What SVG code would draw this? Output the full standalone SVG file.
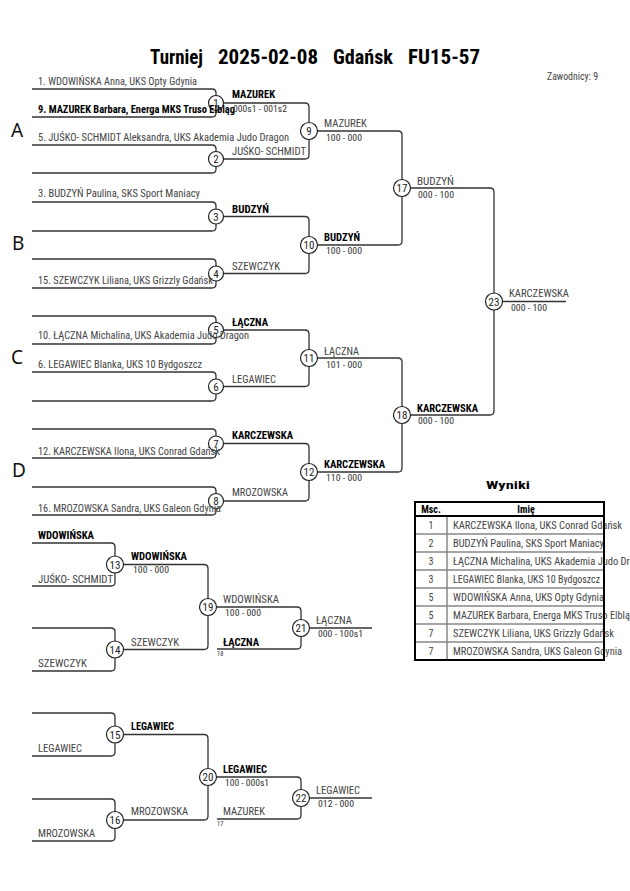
<svg xmlns="http://www.w3.org/2000/svg" width="630" height="891" viewBox="0 0 630 891">
<style>
.bg{fill:#fff}
.ln{fill:none;stroke:#333;stroke-width:1.3}
.nd circle{fill:#fff;stroke:#222;stroke-width:1.2}
.nd text{font-family:"Roboto Condensed","Liberation Sans Narrow",Roboto,sans-serif;font-size:11px;text-anchor:middle;fill:#222}
.t{font-family:"Roboto Condensed","Liberation Sans Narrow",Roboto,sans-serif;font-size:10px;fill:#444}
.b{font-weight:bold;fill:#000}
.s{font-size:8.5px;fill:#333}
.tiny{font-size:6.5px;fill:#333}
.pool{font-family:"Noto Sans","Open Sans",sans-serif;font-size:19px;fill:#111}
.ttl{font-family:"Roboto Condensed","Liberation Sans Narrow",Roboto,sans-serif;font-size:20px;font-weight:bold;fill:#000}
.tb{fill:none;stroke:#000;stroke-width:2}
.tl{fill:none;stroke:#888;stroke-width:1.5}
.c{text-anchor:middle}
</style>
<rect class="bg" x="0" y="0" width="630" height="891"/>

<g id="title">
<text class="ttl" x="150" y="64" textLength="53" lengthAdjust="spacingAndGlyphs">Turniej</text>
<text class="ttl" x="218" y="64" textLength="100" lengthAdjust="spacingAndGlyphs">2025-02-08</text>
<text class="ttl" x="333" y="64" textLength="60" lengthAdjust="spacingAndGlyphs">Gdańsk</text>
<text class="ttl" x="408" y="64" textLength="72" lengthAdjust="spacingAndGlyphs">FU15-57</text>
<text class="t" x="547" y="80" textLength="51" lengthAdjust="spacingAndGlyphs" fill="#555">Zawodnicy: 9</text>
</g>

<g id="pools">
<text class="pool" x="11" y="137">A</text>
<text class="pool" x="12" y="250">B</text>
<text class="pool" x="11" y="364">C</text>
<text class="pool" x="12" y="477">D</text>
</g>

<g id="connectors">
<path class="ln" d="M32,89 H212 Q216,89 216,93 V113 Q216,117 212,117 H32"/>
<path class="ln" d="M32,145 H212 Q216,145 216,149 V169 Q216,173 212,173 H32"/>
<path class="ln" d="M32,202 H212 Q216,202 216,206 V227 Q216,231 212,231 H32"/>
<path class="ln" d="M32,259 H212 Q216,259 216,263 V284 Q216,288 212,288 H32"/>
<path class="ln" d="M32,316 H212 Q216,316 216,320 V340 Q216,344 212,344 H32"/>
<path class="ln" d="M32,372 H212 Q216,372 216,376 V397 Q216,401 212,401 H32"/>
<path class="ln" d="M32,429 H212 Q216,429 216,433 V454 Q216,458 212,458 H32"/>
<path class="ln" d="M32,487 H212 Q216,487 216,491 V511 Q216,515 212,515 H32"/>
<path class="ln" d="M216,103 H305 Q309,103 309,107 V155 Q309,159 305,159 H216"/>
<path class="ln" d="M216,216.5 H305 Q309,216.5 309,220.5 V269.5 Q309,273.5 305,273.5 H216"/>
<path class="ln" d="M216,330 H305 Q309,330 309,334 V382.5 Q309,386.5 305,386.5 H216"/>
<path class="ln" d="M216,443.5 H305 Q309,443.5 309,447.5 V497 Q309,501 305,501 H216"/>
<path class="ln" d="M309,131 H398 Q402,131 402,135 V241 Q402,245 398,245 H309"/>
<path class="ln" d="M309,358 H398 Q402,358 402,362 V468 Q402,472 398,472 H309"/>
<path class="ln" d="M402,188 H490 Q494,188 494,192 V411 Q494,415 490,415 H402"/>
<path class="ln" d="M494,301.5 H566"/>
<path class="ln" d="M32,543 H111 Q115,543 115,547 V582 Q115,586 111,586 H32"/>
<path class="ln" d="M32,628 H111 Q115,628 115,632 V667 Q115,671 111,671 H32"/>
<path class="ln" d="M115,564.5 H204 Q208,564.5 208,568.5 V645.5 Q208,649.5 204,649.5 H115"/>
<path class="ln" d="M208,607 H297 Q301,607 301,611 V645 Q301,649 297,649 H217"/>
<path class="ln" d="M301,628 H372"/>
<path class="ln" d="M32,713 H111 Q115,713 115,717 V752 Q115,756 111,756 H32"/>
<path class="ln" d="M32,799 H111 Q115,799 115,803 V837 Q115,841 111,841 H32"/>
<path class="ln" d="M115,734.5 H204 Q208,734.5 208,738.5 V816 Q208,820 204,820 H115"/>
<path class="ln" d="M208,777 H297 Q301,777 301,781 V815 Q301,819 297,819 H217"/>
<path class="ln" d="M301,798 H372"/>
</g>

<g id="n1" class="nd"><circle cx="216" cy="103" r="7.5"/><text x="216" y="107">1</text></g>
<g id="n2" class="nd"><circle cx="216" cy="159" r="7.5"/><text x="216" y="163">2</text></g>
<g id="n3" class="nd"><circle cx="216" cy="216.5" r="7.5"/><text x="216" y="220.5">3</text></g>
<g id="n4" class="nd"><circle cx="216" cy="273.5" r="7.5"/><text x="216" y="277.5">4</text></g>
<g id="n5" class="nd"><circle cx="216" cy="330" r="7.5"/><text x="216" y="334">5</text></g>
<g id="n6" class="nd"><circle cx="216" cy="386.5" r="7.5"/><text x="216" y="390.5">6</text></g>
<g id="n7" class="nd"><circle cx="216" cy="443.5" r="7.5"/><text x="216" y="447.5">7</text></g>
<g id="n8" class="nd"><circle cx="216" cy="501" r="7.5"/><text x="216" y="505">8</text></g>
<g id="n9" class="nd"><circle cx="309" cy="131" r="8.5"/><text x="309" y="135">9</text></g>
<g id="n10" class="nd"><circle cx="309" cy="245" r="8.5"/><text x="309" y="249">10</text></g>
<g id="n11" class="nd"><circle cx="309" cy="358" r="8.5"/><text x="309" y="362">11</text></g>
<g id="n12" class="nd"><circle cx="309" cy="472" r="8.5"/><text x="309" y="476">12</text></g>
<g id="n17" class="nd"><circle cx="402" cy="188" r="8.5"/><text x="402" y="192">17</text></g>
<g id="n18" class="nd"><circle cx="402" cy="415" r="8.5"/><text x="402" y="419">18</text></g>
<g id="n23" class="nd"><circle cx="494" cy="301.5" r="8.5"/><text x="494" y="305.5">23</text></g>
<g id="n13" class="nd"><circle cx="115" cy="564.5" r="8.5"/><text x="115" y="568.5">13</text></g>
<g id="n14" class="nd"><circle cx="115" cy="649.5" r="8.5"/><text x="115" y="653.5">14</text></g>
<g id="n19" class="nd"><circle cx="208" cy="607" r="8.5"/><text x="208" y="611">19</text></g>
<g id="n21" class="nd"><circle cx="301" cy="628" r="8.5"/><text x="301" y="632">21</text></g>
<g id="n15" class="nd"><circle cx="115" cy="734.5" r="8.5"/><text x="115" y="738.5">15</text></g>
<g id="n16" class="nd"><circle cx="115" cy="820" r="8.5"/><text x="115" y="824">16</text></g>
<g id="n20" class="nd"><circle cx="208" cy="777" r="8.5"/><text x="208" y="781">20</text></g>
<g id="n22" class="nd"><circle cx="301" cy="798" r="8.5"/><text x="301" y="802">22</text></g>

<g id="labels">
<text class="t" x="38" y="85" textLength="159" lengthAdjust="spacingAndGlyphs">1. WDOWIŃSKA Anna, UKS Opty Gdynia</text>
<text class="t b" x="38" y="113" textLength="197" lengthAdjust="spacingAndGlyphs">9. MAZUREK Barbara, Energa MKS Truso Elbląg</text>
<text class="t" x="38" y="141" textLength="251" lengthAdjust="spacingAndGlyphs">5. JUŚKO- SCHMIDT Aleksandra, UKS Akademia Judo Dragon</text>
<text class="t b" x="232" y="98" textLength="43" lengthAdjust="spacingAndGlyphs">MAZUREK</text>
<text class="t s" x="233" y="111.5" textLength="54" lengthAdjust="spacingAndGlyphs">000s1 - 001s2</text>
<text class="t" x="232" y="155" textLength="74" lengthAdjust="spacingAndGlyphs">JUŚKO- SCHMIDT</text>
<text class="t" x="324" y="127" textLength="43" lengthAdjust="spacingAndGlyphs">MAZUREK</text>
<text class="t s" x="326" y="141" textLength="36" lengthAdjust="spacingAndGlyphs">100 - 000</text>

<text class="t" x="38" y="197" textLength="162" lengthAdjust="spacingAndGlyphs">3. BUDZYŃ Paulina, SKS Sport Maniacy</text>
<text class="t b" x="232" y="212.5" textLength="37" lengthAdjust="spacingAndGlyphs">BUDZYŃ</text>
<text class="t" x="232" y="269.5" textLength="48" lengthAdjust="spacingAndGlyphs">SZEWCZYK</text>
<text class="t" x="38" y="283.5" textLength="175" lengthAdjust="spacingAndGlyphs">15. SZEWCZYK Liliana, UKS Grizzly Gdańsk</text>
<text class="t b" x="324" y="241" textLength="36" lengthAdjust="spacingAndGlyphs">BUDZYŃ</text>
<text class="t s" x="326" y="254" textLength="36" lengthAdjust="spacingAndGlyphs">100 - 000</text>
<text class="t" x="417" y="184.5" textLength="37" lengthAdjust="spacingAndGlyphs">BUDZYŃ</text>
<text class="t s" x="418" y="197.5" textLength="36" lengthAdjust="spacingAndGlyphs">000 - 100</text>
<text class="t" x="509" y="297" textLength="60" lengthAdjust="spacingAndGlyphs">KARCZEWSKA</text>
<text class="t s" x="511" y="311" textLength="36" lengthAdjust="spacingAndGlyphs">000 - 100</text>

<text class="t b" x="232" y="326" textLength="36" lengthAdjust="spacingAndGlyphs">ŁĄCZNA</text>
<text class="t" x="38" y="339" textLength="211" lengthAdjust="spacingAndGlyphs">10. ŁĄCZNA Michalina, UKS Akademia Judo Dragon</text>
<text class="t" x="38" y="367.5" textLength="164" lengthAdjust="spacingAndGlyphs">6. LEGAWIEC Blanka, UKS 10 Bydgoszcz</text>
<text class="t" x="232" y="383" textLength="44" lengthAdjust="spacingAndGlyphs">LEGAWIEC</text>
<text class="t" x="324" y="354.5" textLength="35" lengthAdjust="spacingAndGlyphs">ŁĄCZNA</text>
<text class="t s" x="326" y="367.5" textLength="36" lengthAdjust="spacingAndGlyphs">101 - 000</text>
<text class="t b" x="324" y="468" textLength="61" lengthAdjust="spacingAndGlyphs">KARCZEWSKA</text>
<text class="t s" x="326" y="481" textLength="36" lengthAdjust="spacingAndGlyphs">110 - 000</text>
<text class="t b" x="417" y="412" textLength="61" lengthAdjust="spacingAndGlyphs">KARCZEWSKA</text>
<text class="t s" x="418" y="424" textLength="36" lengthAdjust="spacingAndGlyphs">000 - 100</text>

<text class="t b" x="232" y="439" textLength="61" lengthAdjust="spacingAndGlyphs">KARCZEWSKA</text>
<text class="t" x="38" y="455" textLength="182" lengthAdjust="spacingAndGlyphs">12. KARCZEWSKA Ilona, UKS Conrad Gdańsk</text>
<text class="t" x="232" y="496" textLength="56" lengthAdjust="spacingAndGlyphs">MROZOWSKA</text>
<text class="t" x="38" y="511.5" textLength="183" lengthAdjust="spacingAndGlyphs">16. MROZOWSKA Sandra, UKS Galeon Gdynia</text>

<text class="t b" x="38" y="539" textLength="56" lengthAdjust="spacingAndGlyphs">WDOWIŃSKA</text>
<text class="t" x="38" y="582.5" textLength="75" lengthAdjust="spacingAndGlyphs">JUŚKO- SCHMIDT</text>
<text class="t b" x="131" y="560" textLength="56" lengthAdjust="spacingAndGlyphs">WDOWIŃSKA</text>
<text class="t s" x="133" y="573" textLength="36" lengthAdjust="spacingAndGlyphs">100 - 000</text>
<text class="t" x="131" y="645.5" textLength="48" lengthAdjust="spacingAndGlyphs">SZEWCZYK</text>
<text class="t" x="38" y="666.5" textLength="49" lengthAdjust="spacingAndGlyphs">SZEWCZYK</text>
<text class="t" x="223" y="602.5" textLength="56" lengthAdjust="spacingAndGlyphs">WDOWIŃSKA</text>
<text class="t s" x="225" y="615.5" textLength="36" lengthAdjust="spacingAndGlyphs">100 - 000</text>
<text class="t b" x="223" y="645.5" textLength="36" lengthAdjust="spacingAndGlyphs">ŁĄCZNA</text>
<text class="t tiny" x="217" y="655.5">18</text>
<text class="t" x="316" y="623.5" textLength="36" lengthAdjust="spacingAndGlyphs">ŁĄCZNA</text>
<text class="t s" x="318" y="637" textLength="45" lengthAdjust="spacingAndGlyphs">000 - 100s1</text>

<text class="t b" x="131" y="730" textLength="43" lengthAdjust="spacingAndGlyphs">LEGAWIEC</text>
<text class="t" x="38" y="751.5" textLength="44" lengthAdjust="spacingAndGlyphs">LEGAWIEC</text>
<text class="t b" x="223" y="772.5" textLength="44" lengthAdjust="spacingAndGlyphs">LEGAWIEC</text>
<text class="t s" x="225" y="786" textLength="44" lengthAdjust="spacingAndGlyphs">100 - 000s1</text>
<text class="t" x="131" y="815" textLength="57" lengthAdjust="spacingAndGlyphs">MROZOWSKA</text>
<text class="t" x="223" y="815" textLength="42" lengthAdjust="spacingAndGlyphs">MAZUREK</text>
<text class="t tiny" x="217" y="825.5">17</text>
<text class="t" x="316" y="793.5" textLength="44" lengthAdjust="spacingAndGlyphs">LEGAWIEC</text>
<text class="t s" x="318" y="807" textLength="36" lengthAdjust="spacingAndGlyphs">012 - 000</text>
<text class="t" x="38" y="836.5" textLength="57" lengthAdjust="spacingAndGlyphs">MROZOWSKA</text>
</g>

<g id="results">
<text class="t b c" x="508" y="489" font-size="12" textLength="44" lengthAdjust="spacingAndGlyphs">Wyniki</text>
<text class="t b c" x="431" y="512.5">Msc.</text>
<text class="t b c" x="526" y="512.5">Imię</text>
<g class="t c">
<text x="431" y="528.5">1</text>
<text x="431" y="546.5">2</text>
<text x="431" y="564.5">3</text>
<text x="431" y="582.5">3</text>
<text x="431" y="600.5">5</text>
<text x="431" y="618.5">5</text>
<text x="431" y="636.5">7</text>
<text x="431" y="654.5">7</text>
</g>
<text class="t" x="453" y="528.5" textLength="169" lengthAdjust="spacingAndGlyphs">KARCZEWSKA Ilona, UKS Conrad Gdańsk</text>
<text class="t" x="453" y="546.5" textLength="151" lengthAdjust="spacingAndGlyphs">BUDZYŃ Paulina, SKS Sport Maniacy</text>
<text class="t" x="453" y="564.5" textLength="197" lengthAdjust="spacingAndGlyphs">ŁĄCZNA Michalina, UKS Akademia Judo Dragon</text>
<text class="t" x="453" y="582.5" textLength="147" lengthAdjust="spacingAndGlyphs">LEGAWIEC Blanka, UKS 10 Bydgoszcz</text>
<text class="t" x="453" y="600.5" textLength="151" lengthAdjust="spacingAndGlyphs">WDOWIŃSKA Anna, UKS Opty Gdynia</text>
<text class="t" x="453" y="618.5" textLength="182" lengthAdjust="spacingAndGlyphs">MAZUREK Barbara, Energa MKS Truso Elbląg</text>
<text class="t" x="453" y="636.5" textLength="161" lengthAdjust="spacingAndGlyphs">SZEWCZYK Liliana, UKS Grizzly Gdańsk</text>
<text class="t" x="453" y="654.5" textLength="169" lengthAdjust="spacingAndGlyphs">MROZOWSKA Sandra, UKS Galeon Gdynia</text>
<path class="tl" d="M415,534 H604 M415,552 H604 M415,570 H604 M415,588 H604 M415,606 H604 M415,624 H604 M415,642 H604 M447,516 V660"/>
<path class="tb" d="M415,516 H604"/>
<rect class="tb" x="415" y="502" width="189" height="158"/>
</g>
</svg>
